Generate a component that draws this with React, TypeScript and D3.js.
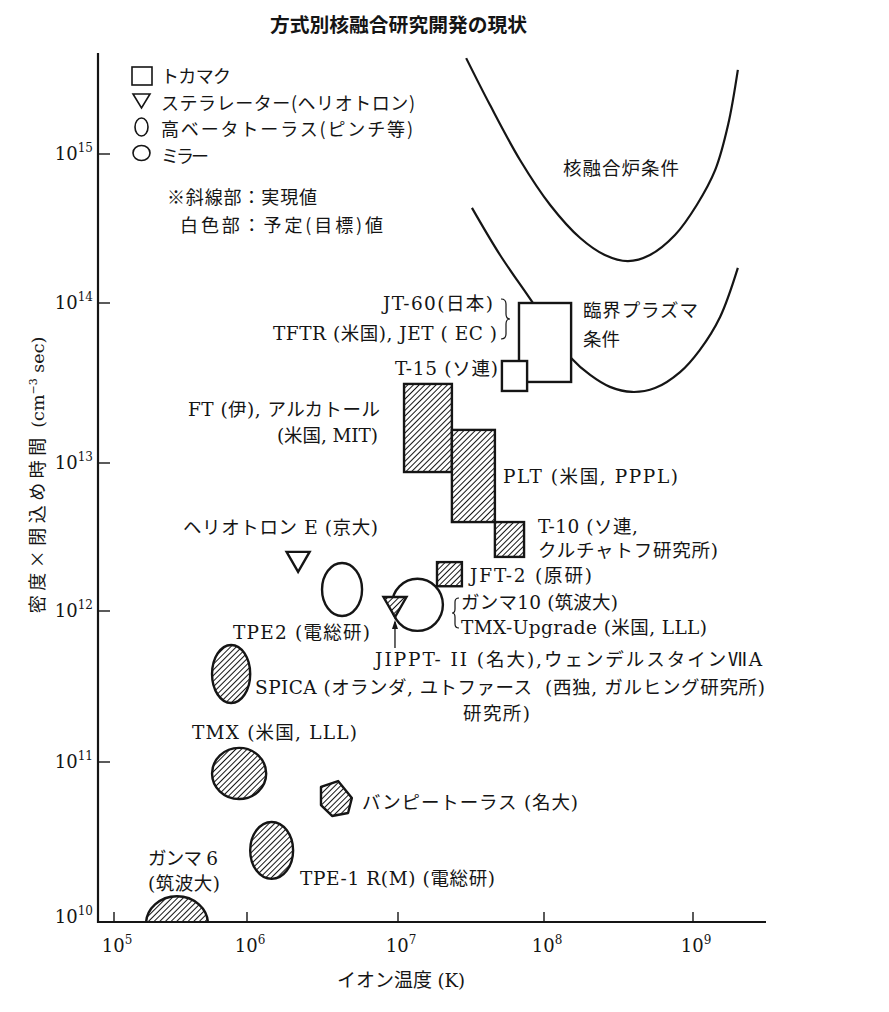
import React from "react";
import * as d3 from "d3";

// ---------- data (ion temperature K, n·tau cm^-3 s) ----------
const X_TICKS = [1e5, 1e6, 1e7, 1e8, 1e9];
const Y_TICKS = [1e10, 1e11, 1e12, 1e13, 1e14, 1e15];

// tokamaks (rectangles)
const TOKAMAK_PLANNED = [
  { name: "JT-60 / TFTR / JET", x0: 6.74e7, x1: 1.52e8, y0: 3.21e13, y1: 1.0e14 },
  { name: "T-15", x0: 5.15e7, x1: 7.66e7, y0: 2.82e13, y1: 4.34e13 },
];
const TOKAMAK_ACHIEVED = [
  { name: "FT / Alcator", x0: 1.1e7, x1: 2.34e7, y0: 8.69e12, y1: 3.12e13 },
  { name: "PLT", x0: 2.34e7, x1: 4.61e7, y0: 3.99e12, y1: 1.61e13 },
  { name: "T-10", x0: 4.61e7, x1: 7.3e7, y0: 2.32e12, y1: 3.99e12 },
  { name: "JFT-2", x0: 1.85e7, x1: 2.74e7, y0: 1.47e12, y1: 2.14e12 },
];
// high beta tori (ellipses)
const HIGH_BETA_ACHIEVED = [
  { name: "SPICA", x0: 5.46e5, x1: 1.05e6, y0: 2.46e11, y1: 5.96e11 },
  { name: "TPE-1R(M)", x0: 1.05e6, x1: 2.02e6, y0: 1.86e10, y1: 4.22e10 },
];
const HIGH_BETA_PLANNED = [
  { name: "TPE2", x0: 3.14e6, x1: 5.78e6, y0: 9.27e11, y1: 2.11e12 },
];
// mirrors (circles)
const MIRROR_ACHIEVED = [
  { name: "TMX", x0: 5.46e5, x1: 1.34e6, y0: 5.87e10, y1: 1.24e11 },
  { name: "Gamma 6", x0: 1.74e5, x1: 5.09e5, y0: 6.49e9, y1: 1.45e10 },
];
const MIRROR_PLANNED = [
  { name: "Gamma 10 / TMX-Upgrade", x0: 9.12e6, x1: 2.03e7, y0: 7.38e11, y1: 1.65e12 },
];
// stellarators (triangles)
const STELLARATOR_PLANNED = [{ name: "Heliotron E", x: 2.18e6, y: 2.18e12 }];
const STELLARATOR_ACHIEVED = [{ name: "JIPPT-II", x: 9.55e6, y: 1.08e12 }];
const JIPPT_ARROW = [
  [9.55e6, 5.69e11],
  [9.55e6, 8.71e11],
];
// bumpy torus (hexagon)
const BUMPY_TORUS: [number, number][] = [
  [3.09e6, 6.98e10],
  [4.01e6, 7.6e10],
  [4.95e6, 5.96e10],
  [4.67e6, 4.8e10],
  [3.66e6, 4.6e10],
  [3.09e6, 5.38e10],
];
// condition curves
const REACTOR_CURVE: [number, number][] = [
  [2.93e7, 4.4e15],
  [4.27e7, 2.13e15],
  [6.85e7, 9.12e14],
  [1.1e8, 4.55e14],
  [1.75e8, 2.73e14],
  [2.56e8, 2.1e14],
  [3.66e8, 1.91e14],
  [5.14e8, 2.1e14],
  [7.57e8, 2.86e14],
  [1.06e9, 4.55e14],
  [1.41e9, 7.82e14],
  [1.72e9, 1.57e15],
  [2.0e9, 3.67e15],
];
const CRITICAL_CURVE: [number, number][] = [
  [3.21e7, 4.35e14],
  [5.0e7, 2.1e14],
  [8.28e7, 1.02e14],
  [1.13e8, 6.59e13],
  [1.52e8, 4.53e13],
  [2.04e8, 3.55e13],
  [2.77e8, 2.99e13],
  [3.9e8, 2.78e13],
  [5.56e8, 2.94e13],
  [8.19e8, 3.7e13],
  [1.11e9, 5.08e13],
  [1.52e9, 8.18e13],
  [2.0e9, 1.72e14],
];

const TITLE = "方式別核融合研究開発の現状";
const X_LABEL = "イオン温度 (K)";
const LEGEND = ["トカマク", "ステラレーター(ヘリオトロン)", "高ベータトーラス(ピンチ等)", "ミラー"];
const NOTES = ["※斜線部：実現値", "白色部：予定(目標)値"];

// ---------- layout ----------
const W = 889;
const H = 1012;
const AX_LEFT = 98;
const AX_RIGHT = 766;
const AX_TOP = 53;
const AX_BOTTOM = 922;
// hand-drawn decade positions of the original plot
const X_RANGE = [114, 247, 398, 544, 693];
const Y_RANGE = [922, 762, 611, 463, 303, 154];

const LATIN = "'DejaVu Serif','Liberation Serif',serif";
const CJK = "'Noto Sans CJK JP','Noto Sans CJK SC',sans-serif";
const INK = "#151515";
const LATIN_SIZE = 18.5;
const CJK_SIZE = 18.5;

const LEGEND_W = [70, 254, 252, 48];
const NOTES_W = [150, 203];

// label layout: x0..x1 = horizontal extent, y = centre line
const LABELS: { t: string; x0: number; x1: number; y: number }[] = [
  { t: "核融合炉条件", x0: 563, x1: 679, y: 168 },
  { t: "臨界プラズマ", x0: 583, x1: 698, y: 310 },
  { t: "条件", x0: 583, x1: 620, y: 339 },
  { t: "JT-60(日本)", x0: 383, x1: 493, y: 303 },
  { t: "TFTR (米国), JET ( EC )", x0: 273, x1: 497, y: 333 },
  { t: "T-15 (ソ連)", x0: 395, x1: 498, y: 368 },
  { t: "FT (伊), アルカトール", x0: 188, x1: 380, y: 409 },
  { t: "(米国, MIT)", x0: 277, x1: 378, y: 435 },
  { t: "PLT (米国, PPPL)", x0: 503, x1: 678, y: 476 },
  { t: "T-10 (ソ連,", x0: 538, x1: 638, y: 526 },
  { t: "クルチャトフ研究所)", x0: 538, x1: 718, y: 550 },
  { t: "JFT-2 (原研)", x0: 470, x1: 592, y: 575 },
  { t: "ガンマ10 (筑波大)", x0: 461, x1: 618, y: 602 },
  { t: "TMX-Upgrade (米国, LLL)", x0: 461, x1: 707, y: 627 },
  { t: "ヘリオトロン E (京大)", x0: 183, x1: 378, y: 527 },
  { t: "TPE2 (電総研)", x0: 233, x1: 370, y: 632 },
  { t: "JIPPT- II (名大),ウェンデルスタインⅦA", x0: 375, x1: 762, y: 659 },
  { t: "(西独, ガルヒング研究所)", x0: 545, x1: 765, y: 687 },
  { t: "SPICA (オランダ, ユトファース", x0: 255, x1: 532, y: 687 },
  { t: "研究所)", x0: 463, x1: 530, y: 713 },
  { t: "TMX (米国, LLL)", x0: 192, x1: 357, y: 732 },
  { t: "バンピートーラス (名大)", x0: 362, x1: 578, y: 802 },
  { t: "ガンマ 6", x0: 148, x1: 218, y: 858 },
  { t: "(筑波大)", x0: 148, x1: 220, y: 883 },
  { t: "TPE-1 R(M) (電総研)", x0: 300, x1: 495, y: 878 },
];

const CJK_RE = /([\u2160-\u217f\u3000-\u30ff\u3400-\u9fff\uff00-\uffef×※]+)/;
const IS_CJK = /^[\u2160-\u217f\u3000-\u30ff\u3400-\u9fff\uff00-\uffef×※]+$/;

function runs(text: string, ls = LATIN_SIZE, cs = CJK_SIZE) {
  return text
    .split(CJK_RE)
    .filter((s) => s.length > 0)
    .map((s, i) =>
      IS_CJK.test(s) ? (
        <tspan key={i} fontFamily={CJK} fontSize={cs}>
          {s}
        </tspan>
      ) : (
        <tspan key={i} fontFamily={LATIN} fontSize={ls}>
          {s}
        </tspan>
      )
    );
}

function supTick(v: number) {
  return String(Math.round(Math.log10(v)));
}

export default function App() {
  const x = d3.scaleLog().domain(X_TICKS).range(X_RANGE);
  const y = d3.scaleLog().domain(Y_TICKS).range(Y_RANGE);

  const line = d3
    .line<[number, number]>()
    .x((d) => x(d[0]))
    .y((d) => y(d[1]))
    .curve(d3.curveCatmullRom.alpha(0.5));

  const rect = (d: { x0: number; x1: number; y0: number; y1: number }, fill: string, key: string) => (
    <rect
      key={key}
      x={x(d.x0)}
      y={y(d.y1)}
      width={x(d.x1) - x(d.x0)}
      height={y(d.y0) - y(d.y1)}
      fill={fill}
      stroke={INK}
      strokeWidth={2.4}
    />
  );
  const ell = (d: { x0: number; x1: number; y0: number; y1: number }, fill: string, key: string, clip?: string) => (
    <ellipse
      key={key}
      cx={(x(d.x0) + x(d.x1)) / 2}
      cy={(y(d.y0) + y(d.y1)) / 2}
      rx={(x(d.x1) - x(d.x0)) / 2}
      ry={(y(d.y0) - y(d.y1)) / 2}
      fill={fill}
      stroke={INK}
      strokeWidth={2.4}
      clipPath={clip}
    />
  );
  const tri = (d: { x: number; y: number }, fill: string, key: string) => {
    const cx = x(d.x);
    const cy = y(d.y);
    const p = d3.path();
    p.moveTo(cx - 11.5, cy - 9);
    p.lineTo(cx + 11.5, cy - 9);
    p.lineTo(cx, cy + 11);
    p.closePath();
    return <path key={key} d={p.toString()} fill={fill} stroke={INK} strokeWidth={2.4} strokeLinejoin="miter" />;
  };

  const hexPath = d3.line<[number, number]>().x((d) => x(d[0])).y((d) => y(d[1]))(BUMPY_TORUS) + "Z";

  const arrowX = x(JIPPT_ARROW[0][0]);
  const arrowY0 = y(JIPPT_ARROW[0][1]);
  const arrowY1 = y(JIPPT_ARROW[1][1]);

  return (
    <svg width={W} height={H} style={{ position: "absolute", left: 0, top: 0, background: "#fff" }}>
      <defs>
        <pattern id="hatch" patternUnits="userSpaceOnUse" width={4} height={4} patternTransform="rotate(45)">
          <rect width={4} height={4} fill="#fff" />
          <line x1={0.5} y1={0} x2={0.5} y2={4} stroke={INK} strokeWidth={1} />
        </pattern>
        <clipPath id="aboveAxis">
          <rect x={AX_LEFT} y={0} width={AX_RIGHT - AX_LEFT} height={AX_BOTTOM} />
        </clipPath>
      </defs>
      <rect width={W} height={H} fill="#fff" />

      {/* title */}
      <text
        x={270}
        y={32}
        textLength={257}
        lengthAdjust="spacingAndGlyphs"
        fontFamily={CJK}
        fontWeight={700}
        fontSize={19.5}
        fill={INK}
      >
        {TITLE}
      </text>

      {/* curves */}
      <path d={line(REACTOR_CURVE) || ""} fill="none" stroke={INK} strokeWidth={2.2} />
      <path d={line(CRITICAL_CURVE) || ""} fill="none" stroke={INK} strokeWidth={2.2} />

      {/* tokamaks */}
      {TOKAMAK_PLANNED.map((d, i) => rect(d, "#fff", "tp" + i))}
      {TOKAMAK_ACHIEVED.map((d, i) => rect(d, "url(#hatch)", "ta" + i))}

      {/* high beta */}
      {HIGH_BETA_PLANNED.map((d, i) => ell(d, "#fff", "hp" + i))}
      {HIGH_BETA_ACHIEVED.map((d, i) => ell(d, "url(#hatch)", "ha" + i))}

      {/* mirrors */}
      {MIRROR_PLANNED.map((d, i) => ell(d, "#fff", "mp" + i))}
      {MIRROR_ACHIEVED.map((d, i) => ell(d, "url(#hatch)", "ma" + i, "url(#aboveAxis)"))}

      {/* stellarators */}
      {STELLARATOR_PLANNED.map((d, i) => tri(d, "#fff", "sp" + i))}
      {STELLARATOR_ACHIEVED.map((d, i) => tri(d, "url(#hatch)", "sa" + i))}

      {/* bumpy torus */}
      <path d={hexPath} fill="url(#hatch)" stroke={INK} strokeWidth={2.4} strokeLinejoin="round" />

      {/* arrow */}
      <line x1={arrowX} y1={arrowY0} x2={arrowX} y2={arrowY1 + 2} stroke={INK} strokeWidth={1.3} />
      <path d={`M${arrowX},${arrowY1} L${arrowX - 3},${arrowY1 + 9} L${arrowX + 3},${arrowY1 + 9} Z`} fill={INK} />

      {/* braces */}
      <path d="M501,299 q5,0 5,5 v10 q0,5 4,5 q-4,0 -4,5 v10 q0,5 -5,5" fill="none" stroke={INK} strokeWidth={1.2} />
      <path d="M459,598 q-4,0 -4,4 v7 q0,4 -3,4 q3,0 3,4 v7 q0,4 4,4" fill="none" stroke={INK} strokeWidth={1.2} />

      {/* axes */}
      <line x1={AX_LEFT} y1={AX_TOP} x2={AX_LEFT} y2={AX_BOTTOM + 1} stroke={INK} strokeWidth={2.2} />
      <line x1={AX_LEFT - 1} y1={AX_BOTTOM} x2={AX_RIGHT} y2={AX_BOTTOM} stroke={INK} strokeWidth={2.2} />
      {X_TICKS.map((t) => (
        <g key={"xt" + t}>
          <line x1={x(t)} y1={AX_BOTTOM} x2={x(t)} y2={AX_BOTTOM - 10} stroke={INK} strokeWidth={1.4} />
          <text x={x(t) + 3} y={952} textAnchor="middle" fontFamily={LATIN} fontSize={18} fill={INK}>
            10
            <tspan fontSize={12} dy={-8}>
              {supTick(t)}
            </tspan>
          </text>
        </g>
      ))}
      {Y_TICKS.map((t) => (
        <g key={"yt" + t}>
          {t > 1e10 && <line x1={AX_LEFT} y1={y(t)} x2={AX_LEFT + 12} y2={y(t)} stroke={INK} strokeWidth={1.4} />}
          <text x={93} y={y(t) + (t === 1e10 ? 1 : 6)} textAnchor="end" fontFamily={LATIN} fontSize={18} fill={INK}>
            10
            <tspan fontSize={12} dy={-8}>
              {supTick(t)}
            </tspan>
          </text>
        </g>
      ))}

      {/* axis titles */}
      <text x={337} y={987} textLength={128} lengthAdjust="spacing" fill={INK}>
        {runs(X_LABEL, 18, 19)}
      </text>
      <text transform="translate(44,475) rotate(-90)" textAnchor="middle" fill={INK}>
        <tspan fontFamily={CJK} fontSize={18} letterSpacing={4.5}>
          密度×閉込め時間
        </tspan>
        <tspan fontFamily={LATIN} fontSize={17.5}>
          {" "}(cm
        </tspan>
        <tspan fontFamily={LATIN} fontSize={11} dy={-7}>
          −3
        </tspan>
        <tspan fontFamily={LATIN} fontSize={17.5} dy={7}>
          {" "}sec)
        </tspan>
      </text>

      {/* legend */}
      <rect x={132} y={67} width={20} height={18} fill="#fff" stroke={INK} strokeWidth={1.6} />
      <path d="M133,94 L150,94 L141.5,108 Z" fill="#fff" stroke={INK} strokeWidth={1.6} />
      <ellipse cx={141.5} cy={127} rx={6.5} ry={9} fill="#fff" stroke={INK} strokeWidth={1.6} />
      <ellipse cx={141.5} cy={153} rx={8.5} ry={7.5} fill="#fff" stroke={INK} strokeWidth={1.6} />
      {LEGEND.map((t, i) => (
        <text
          key={t}
          x={161}
          y={83 + i * 26.5}
          textLength={LEGEND_W[i]}
          lengthAdjust="spacing"
          fontSize={18}
          fontFamily={CJK}
          fill={INK}
        >
          {t}
        </text>
      ))}
      {NOTES.map((t, i) => (
        <text
          key={t}
          x={i === 0 ? 167 : 180}
          y={204 + i * 28}
          textLength={NOTES_W[i]}
          lengthAdjust="spacing"
          fontSize={18}
          fontFamily={CJK}
          fill={INK}
        >
          {t}
        </text>
      ))}

      {/* annotations */}
      {LABELS.map((l, i) => (
        <text key={"l" + i} x={l.x0} y={l.y + 6.5} textLength={l.x1 - l.x0} lengthAdjust="spacing" fill={INK}>
          {runs(l.t)}
        </text>
      ))}
    </svg>
  );
}
